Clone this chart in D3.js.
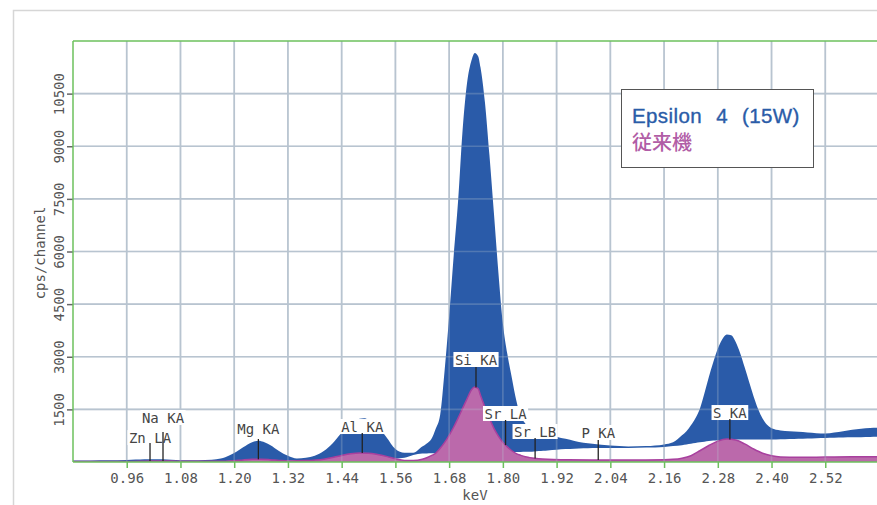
<!DOCTYPE html>
<html><head><meta charset="utf-8">
<script src="https://cdn.jsdelivr.net/npm/d3@7"></script>
<style>body{margin:0;background:#fff}svg{display:block}</style>
</head><body>
<svg id="c" width="877" height="505"></svg>
<script>
// ---------- data ----------
const xTicks = [0.96,1.08,1.20,1.32,1.44,1.56,1.68,1.80,1.92,2.04,2.16,2.28,2.40,2.52];
const yTicks = [1500,3000,4500,6000,7500,9000,10500];
const xLabel = "keV";
const yLabel = "cps/channel";
const seriesNames = ["Epsilon 4 (15W)", "従来機"];

// Epsilon 4 spectrum: [keV, cps] upper edge of the blue band
const blueTop = [[0.84,40],[0.88,42],[0.92,48],[0.96,55],[0.98,68],[1.00,78],[1.02,80],[1.04,78],[1.06,65],[1.08,52],[1.12,50],[1.15,62],[1.17,100],[1.18,137],[1.20,253],[1.22,420],[1.24,564],[1.255,603],[1.26,593],[1.28,486],[1.30,317],[1.32,175],[1.34,100],[1.36,118],[1.38,180],[1.40,312],[1.42,535],[1.44,831],[1.46,1110],[1.48,1235],[1.49,1250],[1.50,1210],[1.52,1013],[1.54,708],[1.56,370],[1.57,290],[1.58,262],[1.60,265],[1.62,440],[1.63,530],[1.64,650],[1.65,950],[1.66,1350],[1.67,2620],[1.68,4150],[1.69,5850],[1.70,7440],[1.71,9450],[1.72,10800],[1.73,11450],[1.7375,11660],[1.745,11560],[1.75,11250],[1.76,10250],[1.77,8750],[1.78,7100],[1.79,5400],[1.80,3950],[1.81,3080],[1.82,2400],[1.83,1750],[1.84,1300],[1.85,1100],[1.86,930],[1.87,900],[1.88,880],[1.89,860],[1.90,830],[1.92,720],[1.94,660],[1.96,600],[1.98,550],[2.00,520],[2.04,470],[2.08,445],[2.12,455],[2.16,500],[2.18,560],[2.20,760],[2.21,880],[2.22,1050],[2.23,1250],[2.24,1520],[2.25,1950],[2.26,2420],[2.27,2850],[2.28,3230],[2.29,3500],[2.30,3635],[2.31,3610],[2.32,3420],[2.33,3100],[2.34,2700],[2.35,2280],[2.36,1870],[2.37,1510],[2.38,1240],[2.39,1060],[2.40,960],[2.42,900],[2.44,880],[2.46,860],[2.48,840],[2.50,820],[2.52,810],[2.54,840],[2.56,880],[2.58,920],[2.60,950],[2.62,970],[2.64,980]];

// lower edge of the blue band (background)
const blueBase = [[0.84,15],[1.16,20],[1.20,35],[1.30,40],[1.36,55],[1.50,70],[1.56,100],[1.58,120],[1.60,200],[1.62,240],[1.70,270],[1.86,290],[1.90,330],[1.94,370],[2.00,400],[2.08,400],[2.12,410],[2.16,430],[2.20,480],[2.26,600],[2.30,640],[2.40,640],[2.50,680],[2.64,720]];

// conventional instrument spectrum
const pinkSpec = [[0.84,15],[0.96,15],[1.00,22],[1.04,32],[1.08,20],[1.16,20],[1.20,38],[1.22,60],[1.24,75],[1.26,78],[1.28,65],[1.30,45],[1.32,30],[1.36,40],[1.40,80],[1.42,128],[1.44,185],[1.46,232],[1.48,255],[1.50,250],[1.52,215],[1.54,160],[1.56,90],[1.58,45],[1.60,45],[1.62,80],[1.63,120],[1.64,180],[1.65,250],[1.66,390],[1.67,560],[1.68,760],[1.69,990],[1.70,1250],[1.71,1530],[1.72,1800],[1.73,2060],[1.737,2140],[1.745,2090],[1.75,1900],[1.76,1560],[1.77,1250],[1.78,960],[1.79,740],[1.80,560],[1.81,430],[1.82,320],[1.83,240],[1.84,190],[1.85,150],[1.86,125],[1.87,105],[1.88,90],[1.90,75],[1.94,65],[2.00,58],[2.10,56],[2.16,62],[2.18,75],[2.20,110],[2.22,180],[2.24,320],[2.26,470],[2.28,595],[2.30,655],[2.32,625],[2.34,515],[2.36,370],[2.38,250],[2.40,180],[2.42,145],[2.46,132],[2.50,135],[2.54,145],[2.60,150],[2.64,150]];

// peak markers: label, energy (keV), marker top (cps)
const markerNames = ["Zn LA","Na KA","Mg KA","Al KA","Si KA","Sr LA","Sr LB","P KA","S KA"];
const markerEnergy = [1.012,1.041,1.254,1.486,1.740,1.806,1.872,2.013,2.307];
const markerTop = [540,855,655,826,2708,1197,684,627,1225];
// layout only: gap (px) between label baseline and marker top
const labelGap = [0,9,5,1,2,1,1,2,1];

// ---------- chart ----------
const svg = d3.select("#c");
const X0 = 73, X1 = 879, Y0 = 462, Y1 = 41;
const x = d3.scaleLinear().domain([0.84, 2.64]).range([X0, X1]);
const y = d3.scaleLinear().domain([0, 12000]).range([Y0, Y1]);
const mono = "'DejaVu Sans Mono', 'Liberation Mono', monospace";
const gridCol = "#b8c4d0", green = "#6cc05c", txtCol = "#555";

// outer frame
svg.append("rect").attr("x",13.5).attr("y",10.5).attr("width",900).attr("height",520)
  .attr("fill","#fff").attr("stroke","#d6d6d6").attr("stroke-width",1.5);

svg.append("defs").append("clipPath").attr("id","plot")
  .append("rect").attr("x",X0).attr("y",Y1).attr("width",X1-X0).attr("height",Y0-Y1);

function grid(g, opacity){
  g.selectAll("line.v").data(xTicks).join("line").attr("class","v")
    .attr("x1",d=>x(d)).attr("x2",d=>x(d)).attr("y1",Y1).attr("y2",Y0)
    .attr("stroke",gridCol).attr("stroke-width",1.7).attr("opacity",opacity);
  g.selectAll("line.h").data(yTicks).join("line").attr("class","h")
    .attr("x1",X0).attr("x2",X1).attr("y1",d=>y(d)).attr("y2",d=>y(d))
    .attr("stroke",gridCol).attr("stroke-width",1.7).attr("opacity",opacity);
}
grid(svg.append("g"), 1);

const plot = svg.append("g").attr("clip-path","url(#plot)");
const baseAt = d3.scaleLinear().domain(blueBase.map(d=>d[0])).range(blueBase.map(d=>d[1]));
const blueArea = d3.area().curve(d3.curveMonotoneX)
  .x(d=>x(d[0])).y1(d=>y(d[1])).y0(d=>y(baseAt(d[0])));
plot.append("path").datum(blueTop).attr("d",blueArea).attr("fill","#2a5ba9");

const pinkArea = d3.area().curve(d3.curveMonotoneX)
  .x(d=>x(d[0])).y1(d=>y(d[1])).y0(y(0));
plot.append("path").datum(pinkSpec).attr("d",pinkArea).attr("fill","#bb69ab");
const pinkLine = d3.line().curve(d3.curveMonotoneX).x(d=>x(d[0])).y(d=>y(d[1]));
plot.append("path").datum(pinkSpec).attr("d",pinkLine).attr("fill","none")
  .attr("stroke","#a8409e").attr("stroke-width",1.5);

grid(svg.append("g").attr("clip-path","url(#plot)"), 0.28);

// axes
const xAxis = d3.axisBottom(x).tickValues(xTicks).tickFormat(d3.format(".2f")).tickSize(6).tickPadding(5);
const gx = svg.append("g").attr("transform",`translate(0,${Y0})`).call(xAxis);
gx.select(".domain").remove();
gx.selectAll(".tick line").attr("stroke",green).attr("stroke-width",1.5);
gx.selectAll(".tick text").attr("fill",txtCol).attr("font-family",mono).attr("font-size",14);

const yAxis = d3.axisLeft(y).tickValues(yTicks).tickFormat(d3.format("d")).tickSize(6);
const gy = svg.append("g").attr("transform",`translate(${X0},0)`).call(yAxis);
gy.select(".domain").remove();
gy.selectAll(".tick line").attr("stroke","#666").attr("stroke-width",1.5);
gy.selectAll(".tick text").attr("fill",txtCol).attr("font-family",mono).attr("font-size",14)
  .attr("x",null).attr("dy",null).attr("text-anchor","middle")
  .attr("transform","translate(-9,0) rotate(-90)");

// green frame lines
svg.append("line").attr("x1",X0).attr("x2",X0).attr("y1",Y1).attr("y2",Y0).attr("stroke",green).attr("stroke-width",1.5);
svg.append("line").attr("x1",X0).attr("x2",X1+5).attr("y1",Y1).attr("y2",Y1).attr("stroke",green).attr("stroke-width",1.5);
svg.append("line").attr("x1",X0).attr("x2",X1+5).attr("y1",Y0).attr("y2",Y0).attr("stroke",green).attr("stroke-width",1.5);

svg.append("text").attr("x",475).attr("y",500).attr("text-anchor","middle")
  .attr("font-family",mono).attr("font-size",14).attr("fill",txtCol).text(xLabel);
svg.append("text").attr("transform","translate(45,253) rotate(-90)").attr("text-anchor","middle")
  .attr("font-family",mono).attr("font-size",14).attr("fill",txtCol).text(yLabel);

// peak markers: boxes, then lines, then texts
const pinkAt = d3.scaleLinear().domain(pinkSpec.map(d=>d[0])).range(pinkSpec.map(d=>d[1]));
const gBox = svg.append("g"), gLine = svg.append("g"), gText = svg.append("g");
markerNames.forEach((name,i)=>{
  const e = markerEnergy[i];
  const px = x(e), pt = y(markerTop[i]), pb = y(pinkAt(e));
  const base = pt - labelGap[i];
  const box = gBox.append("rect").attr("fill","#fff");
  gLine.append("line").attr("x1",px).attr("x2",px).attr("y1",pt).attr("y2",pb)
    .attr("stroke","#222").attr("stroke-width",1.3);
  const t = gText.append("text").attr("x",px).attr("y",base).attr("text-anchor","middle")
    .attr("font-family",mono).attr("font-size",14).attr("fill","#444").text(name);
  const w = t.node().getComputedTextLength();
  box.attr("x",px-w/2-1.5).attr("y",base-13).attr("width",w+3).attr("height",15);
});

// legend
const lg = svg.append("g");
lg.append("rect").attr("x",621.5).attr("y",89.5).attr("width",192).attr("height",78)
  .attr("fill","#fff").attr("stroke","#555").attr("stroke-width",1);
lg.append("text").attr("x",632).attr("y",123).attr("font-family","'Liberation Sans', Arial, sans-serif")
  .attr("font-size",20.5).attr("word-spacing",8).attr("letter-spacing",0.4)
  .attr("fill","#2a5ca8").attr("stroke","#2a5ca8").attr("stroke-width",0.35)
  .text(seriesNames[0]);
lg.append("text").attr("x",632).attr("y",150).attr("font-family","'Noto Sans CJK JP', sans-serif")
  .attr("font-size",20).attr("font-weight",500).attr("fill","#b15da6").text(seriesNames[1]);
</script>
</body></html>
